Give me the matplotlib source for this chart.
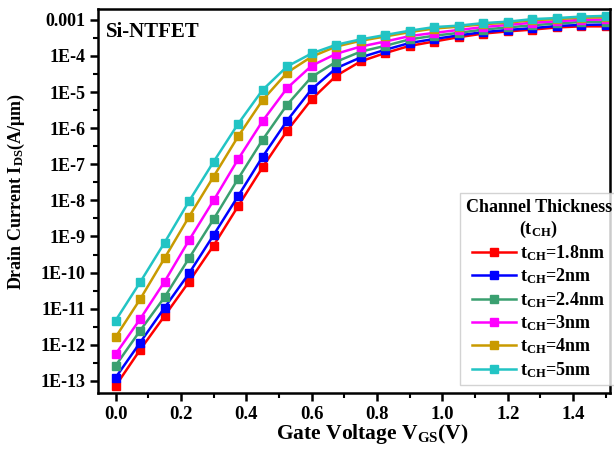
import matplotlib

matplotlib.use("Agg")
import matplotlib.pyplot as plt
from matplotlib.ticker import FixedLocator, FuncFormatter, MultipleLocator

# Gate voltage sweep (V)
vgs = [0.0, 0.075, 0.15, 0.225, 0.3, 0.375, 0.45, 0.525, 0.6, 0.675, 0.75,
       0.825, 0.9, 0.975, 1.05, 1.125, 1.2, 1.275, 1.35, 1.425, 1.5]

# log10 of drain current (A/um)
log_id_18 = [-13.14, -12.14, -11.20, -10.25, -9.25, -8.16, -7.08, -6.07, -5.20, -4.55, -4.15,
             -3.92, -3.72, -3.60, -3.48, -3.38, -3.32, -3.27, -3.21, -3.18, -3.18]
log_id_20 = [-12.91, -11.94, -10.97, -10.02, -8.96, -7.88, -6.79, -5.79, -4.92, -4.34, -4.04,
             -3.83, -3.64, -3.53, -3.43, -3.34, -3.28, -3.23, -3.17, -3.14, -3.13]
log_id_24 = [-12.58, -11.61, -10.68, -9.60, -8.52, -7.40, -6.32, -5.35, -4.58, -4.16, -3.88,
             -3.72, -3.54, -3.44, -3.36, -3.27, -3.21, -3.15, -3.10, -3.06, -3.05]
log_id_30 = [-12.26, -11.29, -10.25, -9.10, -8.00, -6.86, -5.80, -4.89, -4.27, -3.94, -3.74,
             -3.60, -3.45, -3.36, -3.28, -3.20, -3.14, -3.08, -3.04, -3.00, -2.99]
log_id_40 = [-11.79, -10.74, -9.60, -8.45, -7.34, -6.23, -5.22, -4.46, -4.02, -3.74, -3.58,
             -3.46, -3.34, -3.24, -3.19, -3.12, -3.08, -3.01, -2.98, -2.94, -2.93]
log_id_50 = [-11.33, -10.27, -9.17, -8.02, -6.93, -5.88, -4.94, -4.29, -3.93, -3.69, -3.54,
             -3.42, -3.30, -3.20, -3.16, -3.09, -3.05, -2.98, -2.95, -2.91, -2.89]

labels = ["1.8nm", "2nm", "2.4nm", "3nm", "4nm", "5nm"]
series = [log_id_18, log_id_20, log_id_24, log_id_30, log_id_40, log_id_50]
colors = ["#ff0000", "#0000ff", "#3aa070", "#ff00ff", "#c99a00", "#22c4c4"]

y_ticks = [1e-13, 1e-12, 1e-11, 1e-10, 1e-9, 1e-8, 1e-7, 1e-6, 1e-5, 1e-4, 1e-3]
y_tick_labels = ["1E-13", "1E-12", "1E-11", "1E-10", "1E-9", "1E-8",
                 "1E-7", "1E-6", "1E-5", "1E-4", "0.001"]

plt.rcParams["font.family"] = ["Liberation Serif", "DejaVu Serif"]
plt.rcParams["font.weight"] = "bold"
plt.rcParams["mathtext.fontset"] = "custom"
plt.rcParams["mathtext.rm"] = "Liberation Serif:bold"
plt.rcParams["mathtext.it"] = "Liberation Serif:bold"
plt.rcParams["mathtext.bf"] = "Liberation Serif:bold"

fig = plt.figure(figsize=(6.14, 4.51), dpi=100)
ax = fig.add_axes([0.160, 0.129, 0.833, 0.851])

for vals, lab, col in zip(series, labels, colors):
    ax.plot(vgs, [10 ** v for v in vals], color=col, lw=1.8, marker="s", ms=5.5,
            label=r"t$_{\mathrm{CH}}$=" + lab)

ax.set_yscale("log")
ax.set_xlim(-0.053, 1.512)
ax.set_ylim(10 ** -13.33, 10 ** -2.70)
ax.yaxis.set_major_locator(FixedLocator(y_ticks))


def y_fmt(v, pos):
    i = min(range(len(y_ticks)), key=lambda k: abs(y_ticks[k] / v - 1))
    return y_tick_labels[i]


ax.yaxis.set_major_formatter(FuncFormatter(y_fmt))
ax.yaxis.set_minor_locator(FixedLocator([10 ** (e + 0.5) for e in range(-14, -2)]))
ax.xaxis.set_major_locator(MultipleLocator(0.2))
ax.xaxis.set_minor_locator(MultipleLocator(0.1))

for s in ax.spines.values():
    s.set_linewidth(1.8)
ax.tick_params(which="major", direction="out", length=6, width=1.8)
ax.tick_params(axis="x", which="major", labelsize=13.5)
ax.tick_params(axis="y", which="major", labelsize=13)
ax.tick_params(which="minor", direction="out", length=3.5, width=1.5)

ax.set_xlabel(r"Gate Voltage V$_{\mathrm{GS}}$(V)", fontsize=15.5, fontweight="bold")
ax.set_ylabel(r"Drain Current I$_{\mathrm{DS}}$(A/μm)", fontsize=13, fontweight="bold")
ax.xaxis.set_label_coords(0.535, -0.075)
ax.yaxis.set_label_coords(-0.14, 0.526)
ax.text(0.016, 0.965, "Si-NTFET", transform=ax.transAxes, fontsize=15, fontweight="bold",
        va="top", ha="left")

leg = ax.legend(loc="lower right", title="Channel Thickness\n(t$_{\\mathrm{CH}}$)",
                fontsize=13, title_fontsize=13, frameon=True, fancybox=False,
                handlelength=2.4, handletextpad=0.25, labelspacing=0.2,
                borderpad=0.3, borderaxespad=0.0, bbox_to_anchor=(1.015, 0.02))
leg.get_frame().set_edgecolor("#c8c8c8")
leg.get_frame().set_linewidth(1.0)
leg.get_title().set_fontweight("bold")
leg.get_title().set_multialignment("center")

fig.savefig("out.png", dpi=100)
